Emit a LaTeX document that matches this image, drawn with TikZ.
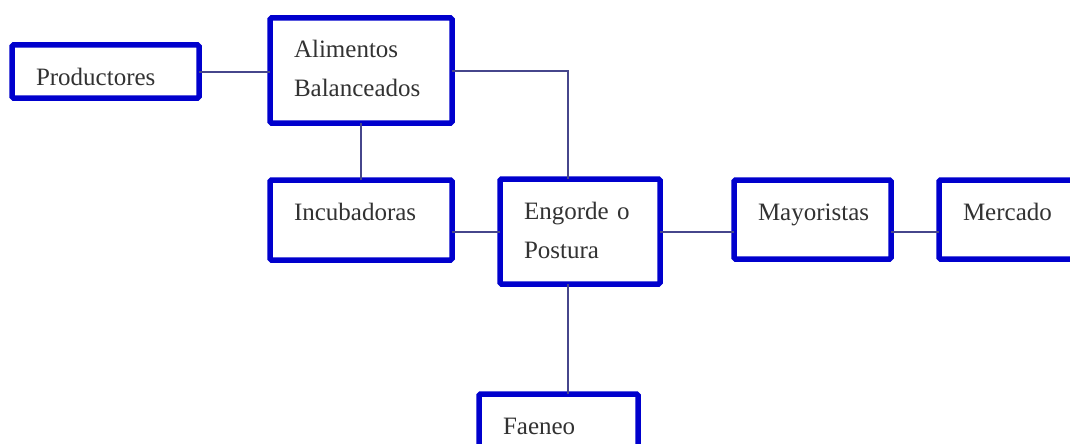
\documentclass[tikz,border=0pt]{standalone}
\usepackage{fontspec}
\setmainfont{Liberation Serif}
\usetikzlibrary{calc}
\definecolor{boxblue}{RGB}{0,0,205}
\definecolor{linkblue}{RGB}{70,70,140}
\definecolor{inkgray}{RGB}{50,50,50}
\begin{document}
\begin{tikzpicture}[x=1pt,y=-1pt,
    blk/.style={draw=boxblue,line width=5.5pt,rounded corners=1.5pt,fill=white,
        anchor=north west,inner xsep=24pt,inner ysep=0pt,outer sep=0pt,align=left,
        text=inkgray,font=\fontsize{25}{39}\selectfont,text height=40pt},
    link/.style={draw=linkblue,line width=2pt}]
                        \useasboundingbox (0,0) rectangle (1070,444);
                        \clip (0,0) rectangle (1070,444);
                        \node[blk,text width=139pt,text depth=13pt] (prod) at (12,45) {Productores};
                        \node[blk,text width=134pt,text depth=65pt] (alim) at (270,18) {Alimentos\\Balanceados};
                        \node[blk,text width=134pt,text depth=40pt] (inc) at (270,180) {Incubadoras};
                        \node[blk,text width=112pt,text depth=65pt] (eng) at (500,179) {Engorde o\\Postura};
                        \node[blk,text width=109pt,text depth=39pt] (may) at (734,180) {Mayoristas};
                        \node[blk,text width=132pt,text depth=39pt] (mer) at (939,180) {Mercado};
                        \node[blk,text width=111pt,text depth=40pt] (fae) at (479,394) {Faeneo};
                        \coordinate (turn) at (568,0);
                        \draw[link] (prod.east) -- (prod.east -| alim.west);
                        \draw[link] (alim.south) -- (alim.south |- inc.north);
                        \draw[link] (alim.east) -- (alim.east -| turn) -- (turn |- eng.north);
                        \draw[link] (eng.west) -- (eng.west -| inc.east);
                        \draw[link] (eng.east) -- (eng.east -| may.west);
                        \draw[link] (eng.east -| may.east) -- (eng.east -| mer.west);
                        \draw[link] (turn |- eng.south) -- (turn |- fae.north);
                    \end{tikzpicture}
\end{document}
